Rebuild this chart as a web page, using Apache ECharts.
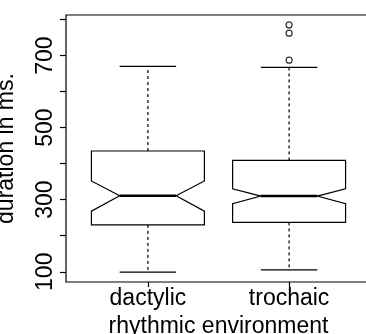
<!DOCTYPE html>
<html>
<head>
<meta charset="utf-8">
<script src="https://cdn.jsdelivr.net/npm/echarts@6/dist/echarts.min.js"></script>
<style>
  html, body { margin: 0; padding: 0; background: #fff; }
  #chart { width: 366px; height: 334px; }
</style>
</head>
<body>
<div id="chart"></div>
<script>
// Notched boxplot: duration by rhythmic environment
var categories = ['dactylic', 'trochaic'];
var whiskerLow = [99, 105];
var q1 = [230, 237];
var notchLow = [268, 289];
var median = [311, 310];
var notchHigh = [352, 330];
var q3 = [435, 409];
var whiskerHigh = [670, 667];
// outliers as [category index, value]
var outliers = [[1, 687], [1, 762], [1, 785]];
var yTicks = [100, 200, 300, 400, 500, 600, 700, 800];
var yLabels = [100, 300, 500, 700];

(function() {
  var font = "'Liberation Sans', Arial, Helvetica, sans-serif";
  var ink = '#000';

  var boxData = categories.map(function(c, i) {
    return [i + 1, whiskerLow[i], q1[i], notchLow[i], median[i], notchHigh[i], q3[i], whiskerHigh[i]];
  });
  var outlierData = outliers.map(function(o) { return [o[0] + 1, o[1]]; });

  var boxHalf = 0.4;   // boxwex 0.8
  var innerHalf = 0.2; // notch / staple

  function renderBox(params, api) {
    var x = api.value(0);
    var lo = api.value(1), b1 = api.value(2), nl = api.value(3), md = api.value(4);
    var nh = api.value(5), b3 = api.value(6), hi = api.value(7);
    function p(dx, v) { return api.coord([x + dx, v]); }
    var lineStyle = { stroke: ink, lineWidth: 1.2, fill: null };
    var dashStyle = { stroke: ink, lineWidth: 1.2, lineDash: [3, 3] };
    return {
      type: 'group',
      children: [
        { type: 'line', shape: { x1: p(0, b3)[0], y1: p(0, b3)[1], x2: p(0, hi)[0], y2: p(0, hi)[1] }, style: dashStyle },
        { type: 'line', shape: { x1: p(0, b1)[0], y1: p(0, b1)[1], x2: p(0, lo)[0], y2: p(0, lo)[1] }, style: dashStyle },
        { type: 'line', shape: { x1: p(-innerHalf, hi)[0], y1: p(0, hi)[1], x2: p(innerHalf, hi)[0], y2: p(0, hi)[1] }, style: lineStyle },
        { type: 'line', shape: { x1: p(-innerHalf, lo)[0], y1: p(0, lo)[1], x2: p(innerHalf, lo)[0], y2: p(0, lo)[1] }, style: lineStyle },
        {
          type: 'polygon',
          shape: {
            points: [
              p(-boxHalf, b3), p(boxHalf, b3), p(boxHalf, nh), p(innerHalf, md),
              p(boxHalf, nl), p(boxHalf, b1), p(-boxHalf, b1), p(-boxHalf, nl),
              p(-innerHalf, md), p(-boxHalf, nh)
            ]
          },
          style: { stroke: ink, lineWidth: 1.2, fill: '#fff' }
        },
        { type: 'line', shape: { x1: p(-innerHalf, md)[0], y1: p(0, md)[1], x2: p(innerHalf, md)[0], y2: p(0, md)[1] }, style: { stroke: ink, lineWidth: 2.4 } }
      ]
    };
  }

  var chart = echarts.init(document.getElementById('chart'), null, { renderer: 'canvas' });
  chart.setOption({
    animation: false,
    textStyle: { fontFamily: font, color: ink },
    grid: {
      left: 66, top: 15, width: 305, height: 267,
      containLabel: false, outerBoundsMode: 'none',
      show: true, borderColor: ink, borderWidth: 1.2, backgroundColor: 'transparent'
    },
    xAxis: {
      type: 'value',
      min: 0.42,
      max: 2.58,
      name: 'rhythmic environment',
      nameLocation: 'middle',
      nameGap: 25,
      nameTextStyle: { fontFamily: font, fontSize: 23, color: ink },
      axisLine: { show: false },
      splitLine: { show: false },
      axisTick: { show: true, length: 5, customValues: [1, 2], lineStyle: { color: ink, width: 1.2 } },
      axisLabel: {
        customValues: [1, 2],
        margin: 5,
        fontFamily: font, fontSize: 23, color: ink,
        formatter: function(v) { return categories[Math.round(v) - 1]; }
      }
    },
    yAxis: {
      type: 'value',
      min: 71.56,
      max: 812.44,
      name: 'duration in ms.',
      nameLocation: 'middle',
      nameGap: 48,
      nameTextStyle: { fontFamily: font, fontSize: 23, color: ink },
      axisLine: { show: false },
      splitLine: { show: false },
      axisTick: { show: true, length: 6, customValues: yTicks, lineStyle: { color: ink, width: 1.2 } },
      axisLabel: {
        customValues: yLabels,
        rotate: 90,
        margin: 9,
        fontFamily: font, fontSize: 23, color: ink
      }
    },
    series: [
      {
        type: 'custom',
        renderItem: renderBox,
        data: boxData,
        encode: { x: 0, y: [1, 2, 3, 4, 5, 6, 7] },
        z: 2
      },
      {
        type: 'scatter',
        data: outlierData,
        symbol: 'circle',
        symbolSize: 6,
        itemStyle: { color: '#fff', borderColor: ink, borderWidth: 1.2 },
        z: 3
      }
    ]
  });
  window.addEventListener('resize', function() { chart.resize(); });
})();
</script>
</body>
</html>
